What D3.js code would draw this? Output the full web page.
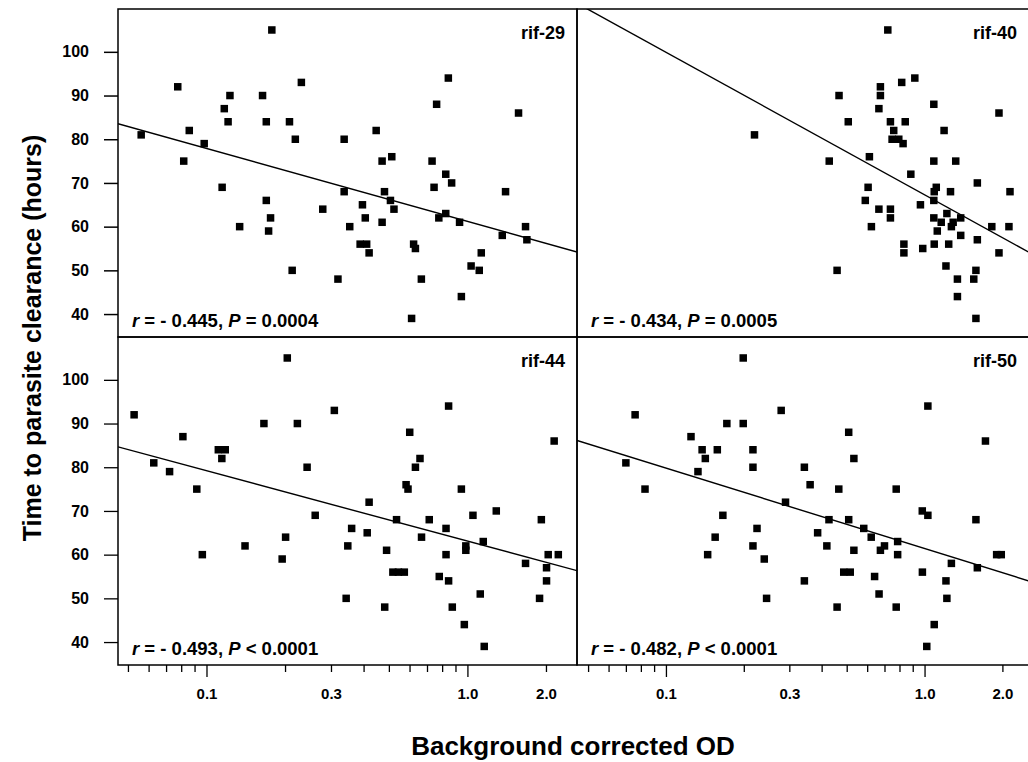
<!DOCTYPE html>
<html>
<head>
<meta charset="utf-8">
<script src="https://cdn.jsdelivr.net/npm/d3@7"></script>
<style>
  body { margin: 0; background: #fff; }
  text { font-family: "Liberation Sans", Arial, sans-serif; font-weight: bold; fill: #000; }
</style>
</head>
<body>
<div id="target"></div>
<script>
// panel names and statistics
let panelNames = ["rif-29", "rif-40", "rif-44", "rif-50"];
let statR = ["- 0.445", "- 0.434", "- 0.493", "- 0.482"];
let statP = ["= 0.0004", "= 0.0005", "< 0.0001", "< 0.0001"];

// regression lines: time = intercept + slope * log10(OD)
let fitIntercept = [61.2, 67.3, 63.1, 61.4];
let fitSlope = [-16.7, -32.6, -16.1, -18.4];

let yTicks = [40, 50, 60, 70, 80, 90, 100];
let xMajor = [0.1, 1.0];
let xMinor = [0.05, 0.06, 0.07, 0.08, 0.09, 0.2, 0.3, 0.4, 0.5, 0.6, 0.7, 0.8, 0.9, 2.0];
let xLabels = [0.1, 0.3, 1.0, 2.0];

// rif-29
let od29 = [0.0562, 0.0776, 0.0818, 0.0859, 0.098, 0.1148, 0.117, 0.121, 0.123, 0.134,
  0.164, 0.1695, 0.1695, 0.173, 0.176, 0.178, 0.208, 0.213, 0.219, 0.231,
  0.279, 0.319, 0.337, 0.337, 0.354, 0.388, 0.396, 0.406, 0.411, 0.42,
  0.447, 0.471, 0.471, 0.481, 0.507, 0.513, 0.523, 0.611, 0.622, 0.632,
  0.666, 0.732, 0.745, 0.762, 0.777, 0.826, 0.826, 0.845, 0.87, 0.933,
  0.948, 1.033, 1.11, 1.13, 1.36, 1.40, 1.57, 1.67, 1.69];
let time29 = [81, 92, 75, 82, 79, 69, 87, 84, 90, 60,
  90, 84, 66, 59, 62, 105, 84, 50, 80, 93,
  64, 48, 80, 68, 60, 56, 65, 62, 56, 54,
  82, 75, 61, 68, 66, 76, 64, 39, 56, 55,
  48, 75, 69, 88, 62, 72, 63, 94, 70, 61,
  44, 51, 50, 54, 58, 68, 86, 60, 57];

// rif-40
let od40 = [0.220, 0.428, 0.459, 0.467, 0.507, 0.590, 0.605, 0.612, 0.623, 0.666,
  0.666, 0.675, 0.675, 0.721, 0.738, 0.738, 0.738, 0.760, 0.749, 0.795,
  0.826, 0.816, 0.842, 0.832, 0.832, 0.885, 0.917, 0.964, 0.984, 1.086,
  1.086, 1.09, 1.11, 1.086, 1.086, 1.09, 1.12, 1.16, 1.19, 1.21,
  1.22, 1.24, 1.26, 1.27, 1.29, 1.32, 1.34, 1.34, 1.38, 1.38,
  1.58, 1.60, 1.60, 1.58, 1.55, 1.82, 1.94, 1.94, 2.12, 2.14];
let time40 = [81, 75, 50, 90, 84, 66, 69, 76, 60, 87,
  64, 90, 92, 105, 84, 64, 62, 82, 80, 80,
  79, 93, 84, 56, 54, 72, 94, 65, 55, 88,
  75, 68, 69, 66, 62, 56, 59, 61, 82, 51,
  63, 56, 68, 60, 61, 75, 48, 44, 62, 58,
  39, 70, 57, 50, 48, 60, 86, 54, 60, 68];

// rif-44
let od44 = [0.0528, 0.0628, 0.0722, 0.0812, 0.0918, 0.0964, 0.111, 0.118, 0.1145, 0.1405,
  0.166, 0.195, 0.201, 0.204, 0.223, 0.243, 0.261, 0.309, 0.343, 0.348,
  0.360, 0.413, 0.420, 0.482, 0.490, 0.518, 0.544, 0.573, 0.535, 0.582,
  0.592, 0.601, 0.632, 0.658, 0.667, 0.714, 0.780, 0.828, 0.828, 0.847,
  0.847, 0.875, 0.948, 0.973, 0.986, 0.986, 1.05, 1.12, 1.15, 1.16,
  1.29, 1.67, 1.89, 1.92, 2.01, 2.01, 2.04, 2.23, 2.15];
let time44 = [92, 81, 79, 87, 75, 60, 84, 84, 82, 62,
  90, 59, 64, 105, 90, 80, 69, 93, 50, 62,
  66, 65, 72, 48, 61, 56, 56, 56, 68, 76,
  75, 88, 80, 82, 64, 68, 55, 60, 66, 94,
  54, 48, 75, 44, 62, 61, 69, 51, 63, 39,
  70, 58, 50, 68, 57, 54, 60, 60, 86];

// rif-50
let od50 = [0.070, 0.076, 0.083, 0.125, 0.133, 0.138, 0.142, 0.145, 0.155, 0.158,
  0.166, 0.172, 0.199, 0.199, 0.217, 0.217, 0.217, 0.225, 0.240, 0.245,
  0.279, 0.290, 0.343, 0.361, 0.343, 0.386, 0.419, 0.427, 0.459, 0.466,
  0.487, 0.516, 0.509, 0.533, 0.509, 0.533, 0.582, 0.622, 0.641, 0.667,
  0.675, 0.700, 0.777, 0.787, 0.787, 0.777, 0.980, 0.981, 1.03, 1.03,
  1.02, 1.09, 1.21, 1.22, 1.27, 1.58, 1.60, 1.72, 1.90, 1.98];
let time50 = [81, 92, 75, 87, 79, 84, 82, 60, 64, 84,
  69, 90, 90, 105, 84, 80, 62, 66, 59, 50,
  93, 72, 80, 76, 54, 65, 62, 68, 48, 75,
  56, 56, 88, 82, 68, 61, 66, 64, 55, 51,
  61, 62, 75, 63, 60, 48, 70, 56, 69, 94,
  39, 44, 54, 50, 58, 68, 57, 86, 60, 60];

let odData = [od29, od40, od44, od50];
let timeData = [time29, time40, time44, time50];

let width = 1028, height = 762;
let rows = [9, 337], panelH = 328;
let cols = [
  { x0: 118, x1: 577, dom: [0.0458, 2.63], labelX: 565 },
  { x0: 577, x1: 1031, dom: [0.0453, 2.58], labelX: 1017 }
];

let svg = d3.select("#target").append("svg")
  .attr("width", width)
  .attr("height", height);

svg.append("defs").selectAll("clipPath")
  .data(d3.range(4))
  .enter().append("clipPath")
  .attr("id", (d) => "clip" + d)
  .append("rect")
  .attr("width", (d) => cols[d % 2].x1 - cols[d % 2].x0)
  .attr("height", panelH);

d3.range(4).forEach(function (i) {
  let c = cols[i % 2];
  let row = Math.floor(i / 2);
  let w = c.x1 - c.x0;
  let x = d3.scaleLog().domain(c.dom).range([0, w]);
  let y = d3.scaleLinear().domain([34.75, 109.8]).range([panelH, 0]);

  let g = svg.append("g")
    .attr("transform", "translate(" + c.x0 + "," + rows[row] + ")");

  // regression line
  let line = d3.line()
    .x((d) => x(d))
    .y((d) => y(fitIntercept[i] + fitSlope[i] * Math.log10(d)));
  g.append("path")
    .datum(c.dom)
    .attr("clip-path", "url(#clip" + i + ")")
    .attr("d", line)
    .attr("fill", "none")
    .attr("stroke", "#000")
    .attr("stroke-width", 1.4);

  // points
  let s = 7.5;
  g.selectAll("rect.pt")
    .data(odData[i].map((d, k) => [d, timeData[i][k]]))
    .enter().append("rect")
    .attr("class", "pt")
    .attr("x", (d) => x(d[0]) - s / 2)
    .attr("y", (d) => y(d[1]) - s / 2)
    .attr("width", s)
    .attr("height", s)
    .attr("fill", "#000");

  // frame
  g.append("rect")
    .attr("width", w)
    .attr("height", panelH)
    .attr("fill", "none")
    .attr("stroke", "#000")
    .attr("stroke-width", 1.5);

  g.append("text")
    .attr("x", c.labelX - c.x0)
    .attr("y", 30)
    .attr("text-anchor", "end")
    .style("font-size", "18px")
    .text(panelNames[i]);

  let st = g.append("text")
    .attr("x", 14)
    .attr("y", panelH - 10)
    .style("font-size", "18.5px");
  st.append("tspan").style("font-style", "italic").text("r");
  st.append("tspan").text(" = " + statR[i] + ", ");
  st.append("tspan").style("font-style", "italic").text("P");
  st.append("tspan").text(" " + statP[i]);

  // y axis on left column
  if (i % 2 === 0) {
    let yAxis = d3.axisLeft(y).tickValues(yTicks).tickSize(14).tickPadding(15);
    let ga = g.append("g").call(yAxis);
    ga.select(".domain").remove();
    ga.selectAll("line").attr("stroke-width", 1.5);
    ga.selectAll("text")
      .style("font-size", "16px")
      .style("font-family", "'Liberation Sans', Arial, sans-serif")
      .style("font-weight", "bold");
  }

  // x axis on bottom row
  if (row === 1) {
    let gMinor = g.append("g")
      .attr("transform", "translate(0," + panelH + ")")
      .call(d3.axisBottom(x).tickValues(xMinor).tickSize(7).tickFormat(""));
    gMinor.select(".domain").remove();
    let gMajor = g.append("g")
      .attr("transform", "translate(0," + panelH + ")")
      .call(d3.axisBottom(x).tickValues(xMajor).tickSize(12).tickFormat(""));
    gMajor.select(".domain").remove();
    let gLab = g.append("g")
      .attr("transform", "translate(0," + panelH + ")")
      .call(d3.axisBottom(x).tickValues(xLabels).tickSize(0).tickPadding(23)
        .tickFormat(d3.format(".1f")));
    gLab.select(".domain").remove();
    gLab.selectAll("text")
      .style("font-size", "15px")
      .style("font-family", "'Liberation Sans', Arial, sans-serif")
      .style("font-weight", "bold");
    g.selectAll(".tick line").attr("stroke-width", 1.3);
  }
});

svg.append("text")
  .attr("transform", "translate(41,338) rotate(-90)")
  .attr("text-anchor", "middle")
  .style("font-size", "25px")
  .text("Time to parasite clearance (hours)");

svg.append("text")
  .attr("x", 573)
  .attr("y", 755)
  .attr("text-anchor", "middle")
  .style("font-size", "26px")
  .text("Background corrected OD");
</script>
</body>
</html>
